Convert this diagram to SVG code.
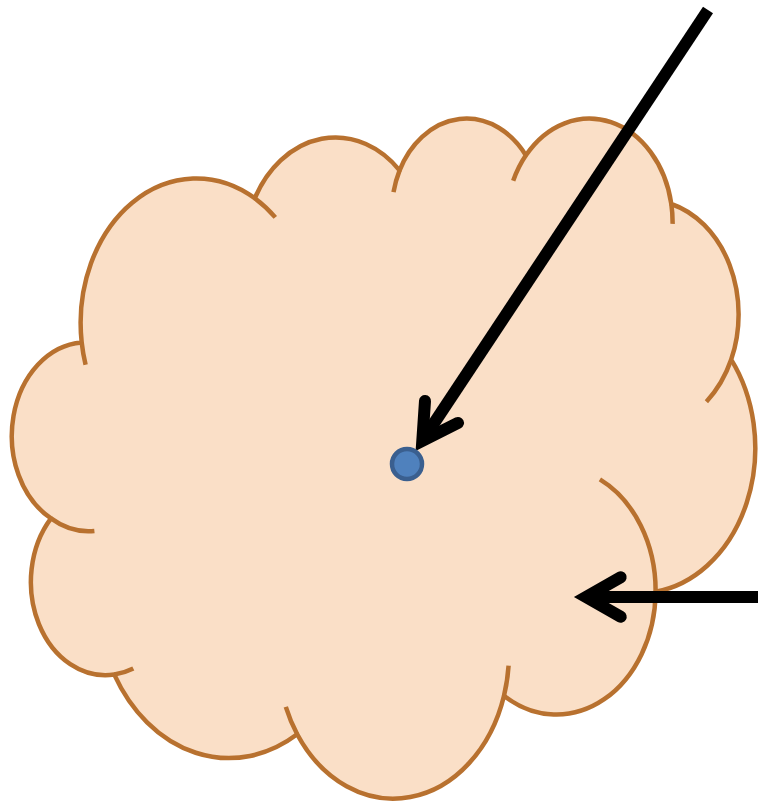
<svg xmlns="http://www.w3.org/2000/svg" width="758" height="804" viewBox="0 0 758 804">
  <style>
    .cloud-body { fill: #FADFC7; stroke: #B8712F; stroke-width: 4.5; stroke-linejoin: round; }
    .crease { fill: none; stroke: #B8712F; stroke-width: 4.5; stroke-linecap: butt; }
    .shaft { fill: none; stroke: #000000; stroke-width: 12; stroke-linecap: butt; }
    .head { fill: none; stroke: #000000; stroke-width: 12; stroke-linecap: round; stroke-linejoin: miter; stroke-miterlimit: 10; }
    .point { fill: #4F81BD; stroke: #3A5F8F; stroke-width: 4.5; }
  </style>
  <rect x="0" y="0" width="758" height="804" fill="#FFFFFF"/>
  <g id="cloud">
    <path class="cloud-body" d="M 81.7 342.5
      A 115.7 144.7 0 0 1 254.8 198.2
      A 91.4 114.4 0 0 1 399.6 170.3
      A 74.8 93.6 0 0 1 525.9 155.3
      A 83.2 103.8 0 0 1 671.3 204.0
      A 91.4 114.5 0 0 1 731.2 359.6
      A 116.1 145.1 0 0 1 655.6 591.7
      A 99.1 123.8 0 0 1 504.0 695.7
      A 115.7 145.1 0 0 1 297.2 734.3
      A 132.2 166.0 0 0 1 114.3 674.6
      A 74.7 93.2 0 0 1 51.0 518.4
      A 74.4 93.6 0 0 1 81.7 342.5 Z"/>
    <path class="crease" d="M 94.4 530.9 A 74.4 93.6 0 0 1 51.0 518.4
      M 133.3 668.6 A 74.7 93.2 0 0 1 114.3 674.6
      M 297.2 734.3 A 115.7 145.1 0 0 1 285.8 706.9
      M 508.6 665.7 A 115.7 145.1 0 0 1 504.0 695.7
      M 599.9 479.4 A 99.1 123.8 0 0 1 655.6 591.7
      M 731.2 359.6 A 91.4 114.5 0 0 1 706.4 401.7
      M 671.3 204.0 A 83.2 103.8 0 0 1 672.6 223.9
      M 513.2 180.7 A 83.2 103.8 0 0 1 525.9 155.3
      M 393.5 192.2 A 74.8 93.6 0 0 1 399.6 170.3
      M 254.8 198.2 A 115.7 144.7 0 0 1 275.3 217.4
      M 85.6 364.8 A 115.7 144.7 0 0 1 81.7 342.5"/>
  </g>
  <g id="connectors">
    <g id="arrow-top">
      <line class="shaft" x1="708" y1="10" x2="422.3" y2="440.9"/>
      <polyline class="head" points="425,401 422.3,440.9 458,422.9"/>
    </g>
    <g id="arrow-right">
      <line class="shaft" x1="762" y1="597" x2="586" y2="597"/>
      <polyline class="head" points="620.7,577.2 586,597 620.7,616.8"/>
    </g>
  </g>
  <g id="dot">
    <circle class="point" cx="407" cy="464" r="15"/>
  </g>
</svg>
